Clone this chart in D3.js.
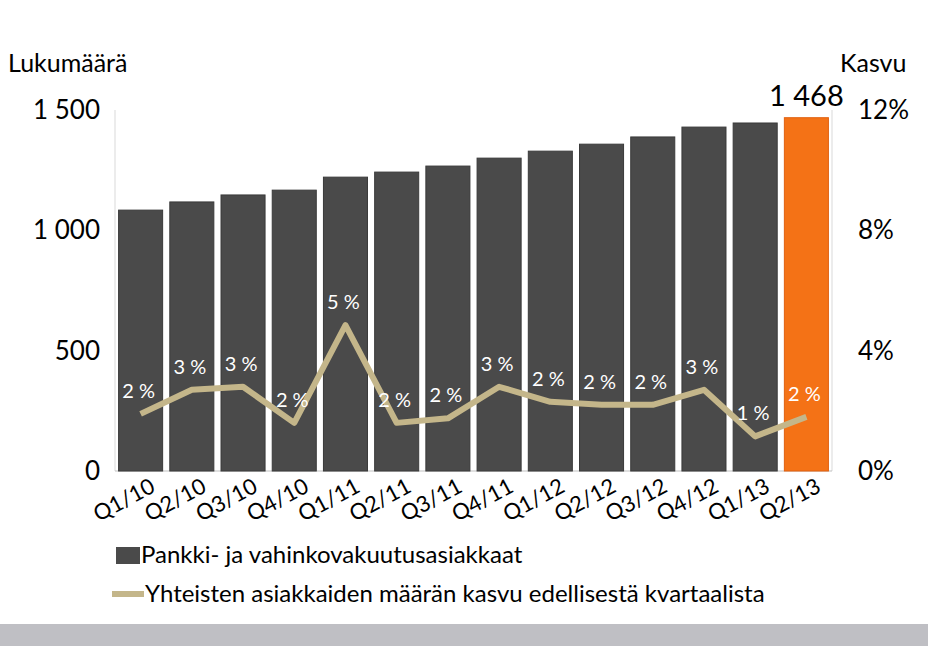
<!DOCTYPE html>
<html><head><meta charset="utf-8">
<script src="https://cdn.jsdelivr.net/npm/d3@7"></script>
<style>body{margin:0;background:#fff}svg{display:block;font-family:Lato,"Open Sans",sans-serif}</style>
</head><body><svg id="svg" width="928" height="646"></svg>
<script>
var quarters = ['Q1/10','Q2/10','Q3/10','Q4/10','Q1/11','Q2/11','Q3/11','Q4/11','Q1/12','Q2/12','Q3/12','Q4/12','Q1/13','Q2/13'];
var customers = [1084,1118,1147,1167,1221,1242,1267,1300,1329,1358,1388,1429,1446,1468];
var growth = [1.9,2.7,2.8,1.6,4.85,1.6,1.75,2.8,2.3,2.2,2.2,2.7,1.15,1.8];
var growthLabels = ['2 %','3 %','3 %','2 %','5 %','2 %','2 %','3 %','2 %','2 %','2 %','3 %','1 %','2 %'];
var leftTicks = [0,500,1000,1500];
var rightTicks = [0,4,8,12];

(function () {
var svg = d3.select('#svg');
var pLeft = 115, pRight = 832, pTop = 110, pBottom = 471;

var x = d3.scaleBand().domain(quarters).range([pLeft, pRight]).paddingInner(0.14).paddingOuter(0.07);
var y = d3.scaleLinear().domain([0,1500]).range([pBottom, pTop]);
var y2 = d3.scaleLinear().domain([0,12]).range([pBottom, pTop]);

svg.append('rect').attr('x',0).attr('y',624).attr('width',928).attr('height',22).attr('fill','#bfbfc4');

// axis lines
svg.append('line').attr('x1',pLeft).attr('x2',pLeft).attr('y1',pTop).attr('y2',pBottom).attr('stroke','#d9d9d9');
svg.append('line').attr('x1',pRight).attr('x2',pRight).attr('y1',pTop).attr('y2',pBottom).attr('stroke','#d9d9d9');
svg.append('line').attr('x1',pLeft).attr('x2',pRight).attr('y1',pBottom).attr('y2',pBottom).attr('stroke','#bfbfbf');

svg.selectAll('.lt').data(leftTicks).enter().append('text')
  .attr('x',100).attr('y',function(d){return y(d)+9;}).attr('text-anchor','end')
  .attr('font-size',26).text(function(d){return d3.format(',')(d).replace(',',' ');});
svg.selectAll('.rt').data(rightTicks).enter().append('text')
  .attr('x',858).attr('y',function(d){return y2(d)+9;})
  .attr('font-size',26).text(function(d){return d+'%';});
svg.append('text').attr('x',8).attr('y',72).attr('font-size',25).text('Lukumäärä');
svg.append('text').attr('x',840).attr('y',72).attr('font-size',25).text('Kasvu');

svg.selectAll('.bar').data(customers).enter().append('rect')
  .attr('x',function(d,i){return x(quarters[i]);}).attr('width',x.bandwidth())
  .attr('y',function(d){return y(d);}).attr('height',function(d){return pBottom-y(d);})
  .attr('fill',function(d,i){return i===quarters.length-1?'#f47216':'#4a4a4a';})
  .attr('stroke',function(d,i){return i===quarters.length-1?'#e06010':'#3a3a3a';});
svg.append('text').attr('x',x(quarters[13])+x.bandwidth()/2).attr('y',y(customers[13])-12)
  .attr('text-anchor','middle').attr('font-size',29).text('1 468');

var cx = function(i){return x(quarters[i])+x.bandwidth()/2;};
svg.append('path').datum(growth)
  .attr('d', d3.line().x(function(d,i){return cx(i);}).y(function(d){return y2(d);}))
  .attr('fill','none').attr('stroke','#c4b68a').attr('stroke-width',6).attr('stroke-linejoin','round');
svg.selectAll('.gl').data(growthLabels).enter().append('text')
  .attr('x',function(d,i){return cx(i)-2;}).attr('y',function(d,i){return y2(growth[i])-16;})
  .attr('text-anchor','middle').attr('font-size',20).attr('fill','#fff').text(function(d){return d;});

svg.selectAll('.xl').data(quarters).enter().append('text')
  .attr('transform',function(d,i){return 'translate('+(cx(i)+16)+','+(pBottom+20)+') rotate(-28)';})
  .attr('text-anchor','end').attr('font-size',22).text(function(d){return d;});

svg.append('rect').attr('x',116).attr('y',547).attr('width',24).attr('height',17).attr('fill','#4a4a4a');
svg.append('text').attr('x',141).attr('y',563).attr('font-size',24).text('Pankki- ja vahinkovakuutusasiakkaat');
svg.append('line').attr('x1',112).attr('x2',144).attr('y1',594).attr('y2',594).attr('stroke','#c4b68a').attr('stroke-width',6);
svg.append('text').attr('x',145).attr('y',602).attr('font-size',24).text('Yhteisten asiakkaiden määrän kasvu edellisestä kvartaalista');
})();
</script></body></html>
